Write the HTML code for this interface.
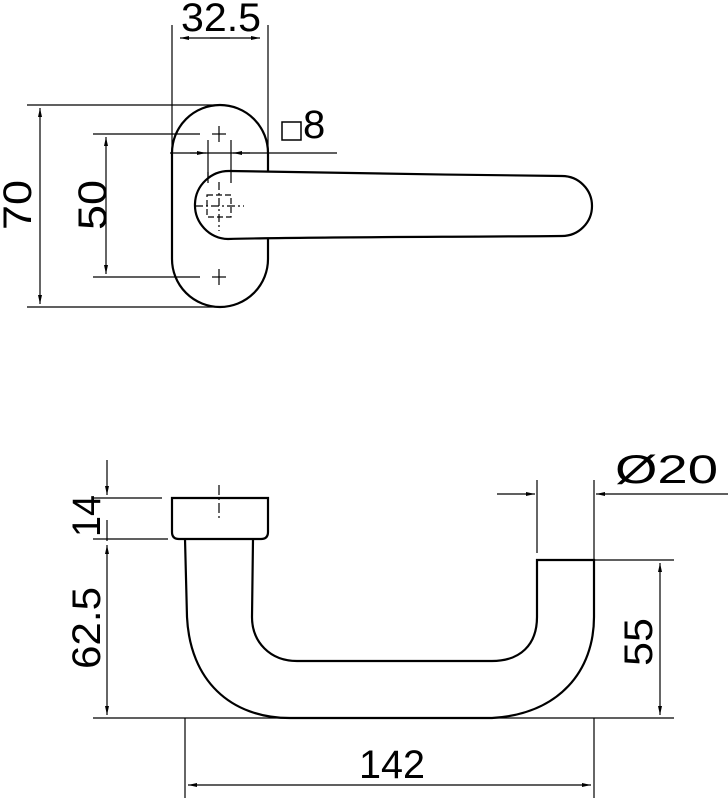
<!DOCTYPE html>
<html><head><meta charset="utf-8"><style>html,body{margin:0;padding:0;background:#fff}svg{display:block}text{font-family:"Liberation Sans",sans-serif;fill:#000}</style></head>
<body>
<svg width="728" height="800" viewBox="0 0 728 800" xmlns="http://www.w3.org/2000/svg">
<defs>
<marker id="a" markerWidth="10" markerHeight="6" refX="9" refY="3" orient="auto" markerUnits="userSpaceOnUse"><path d="M0,1 L9,3 L0,5z" fill="#000"/></marker>
</defs>
<g fill="none" stroke="#000">
<g stroke-width="1.2">
<line x1="172" y1="25" x2="172" y2="160"/>
<line x1="268" y1="25" x2="268" y2="160"/>
<line x1="230" y1="38" x2="180" y2="38" marker-end="url(#a)"/>
<line x1="210" y1="38" x2="260" y2="38" marker-end="url(#a)"/>
<line x1="27" y1="105" x2="215" y2="105"/>
<line x1="27" y1="307" x2="215" y2="307"/>
<line x1="40" y1="200" x2="40" y2="108" marker-end="url(#a)"/>
<line x1="40" y1="200" x2="40" y2="304" marker-end="url(#a)"/>
<line x1="93" y1="134" x2="200" y2="134"/>
<line x1="93" y1="277" x2="200" y2="277"/>
<line x1="106" y1="200" x2="106" y2="137" marker-end="url(#a)"/>
<line x1="106" y1="200" x2="106" y2="274" marker-end="url(#a)"/>
<line x1="170" y1="153" x2="337" y2="153"/>
<line x1="190" y1="153" x2="206" y2="153" marker-end="url(#a)"/>
<line x1="250" y1="153" x2="233" y2="153" marker-end="url(#a)"/>
<line x1="208" y1="140" x2="208" y2="183"/>
<line x1="231" y1="140" x2="231" y2="183"/>
<line x1="212" y1="134" x2="226" y2="134"/><line x1="219" y1="126" x2="219" y2="142"/>
<line x1="212" y1="277" x2="226" y2="277"/><line x1="219" y1="269" x2="219" y2="285"/>
</g>
<path d="M172,153 A48,48 0 0 1 268,153 L268,259 A48,48 0 0 1 172,259 Z" stroke-width="2.2"/>
<path d="M230,171 C300,172 450,175 562,176 A30,30 0 0 1 562,236 C450,237 300,237 228,239 A34,34 0 1 1 230,171 Z" stroke-width="2.2" fill="#fff"/>
<g stroke-width="1.2">
<line x1="208" y1="172" x2="208" y2="183"/><line x1="231" y1="172" x2="231" y2="183"/>
<line x1="195" y1="206" x2="244" y2="206" stroke-dasharray="8,3,2,3"/>
<line x1="219" y1="182" x2="219" y2="231" stroke-dasharray="8,3,2,3"/>
<rect x="207" y="195" width="24" height="22" stroke-dasharray="6,3"/>
</g>
<rect x="282" y="122" width="19" height="18" stroke-width="1.5"/>

<g stroke-width="1.2">
<line x1="93" y1="498" x2="162" y2="498"/>
<line x1="93" y1="539" x2="168" y2="539"/>
<line x1="107" y1="460" x2="107" y2="495" marker-end="url(#a)"/>
<line x1="107" y1="520" x2="107" y2="541"/>
<line x1="107" y1="630" x2="107" y2="545" marker-end="url(#a)"/>
<line x1="107" y1="630" x2="107" y2="715" marker-end="url(#a)"/>
<line x1="93" y1="718" x2="674" y2="718"/>
<line x1="594" y1="560" x2="674" y2="560"/>
<line x1="660" y1="640" x2="660" y2="563" marker-end="url(#a)"/>
<line x1="660" y1="640" x2="660" y2="715" marker-end="url(#a)"/>
<line x1="185" y1="718" x2="185" y2="798"/>
<line x1="594" y1="718" x2="594" y2="798"/>
<line x1="390" y1="785" x2="188" y2="785" marker-end="url(#a)"/>
<line x1="390" y1="785" x2="591" y2="785" marker-end="url(#a)"/>
<line x1="537" y1="480" x2="537" y2="553"/>
<line x1="594" y1="480" x2="594" y2="560"/>
<line x1="497" y1="494" x2="535" y2="494" marker-end="url(#a)"/>
<line x1="728" y1="494" x2="596" y2="494" marker-end="url(#a)"/>
<line x1="219" y1="485" x2="219" y2="520" stroke-dasharray="10,3,2,3"/>
</g>
<g stroke-width="2.2">
<path d="M172,498 L268,498 L268,532 Q268,539 261,539 L179,539 Q172,539 172,532 Z"/>
<path d="M185,539 L187,617 C190,680 230,718 290,718 L492,718 C560,714 594,670 594,617 L594,560 L537,560 L537,617 C537,645 520,661 492,661 L297,661 C270,661 252,642 252,617 L253,539"/>
</g>
</g>
<text x="181" y="31" font-size="40" textLength="80" lengthAdjust="spacingAndGlyphs">32.5</text>
<text x="303" y="138" font-size="40">8</text>
<text x="359" y="778" font-size="40" textLength="66" lengthAdjust="spacingAndGlyphs">142</text>
<text x="615" y="483" font-size="40" textLength="103" lengthAdjust="spacingAndGlyphs">Ø20</text>
<text transform="translate(31,230) rotate(-90)" font-size="40" textLength="50" lengthAdjust="spacingAndGlyphs">70</text>
<text transform="translate(106,230) rotate(-90)" font-size="40" textLength="50" lengthAdjust="spacingAndGlyphs">50</text>
<text transform="translate(100,537) rotate(-90)" font-size="40" textLength="42" lengthAdjust="spacingAndGlyphs">14</text>
<text transform="translate(100,669) rotate(-90)" font-size="40" textLength="82" lengthAdjust="spacingAndGlyphs">62.5</text>
<text transform="translate(652,666) rotate(-90)" font-size="40" textLength="48" lengthAdjust="spacingAndGlyphs">55</text>
</svg>
</body></html>
